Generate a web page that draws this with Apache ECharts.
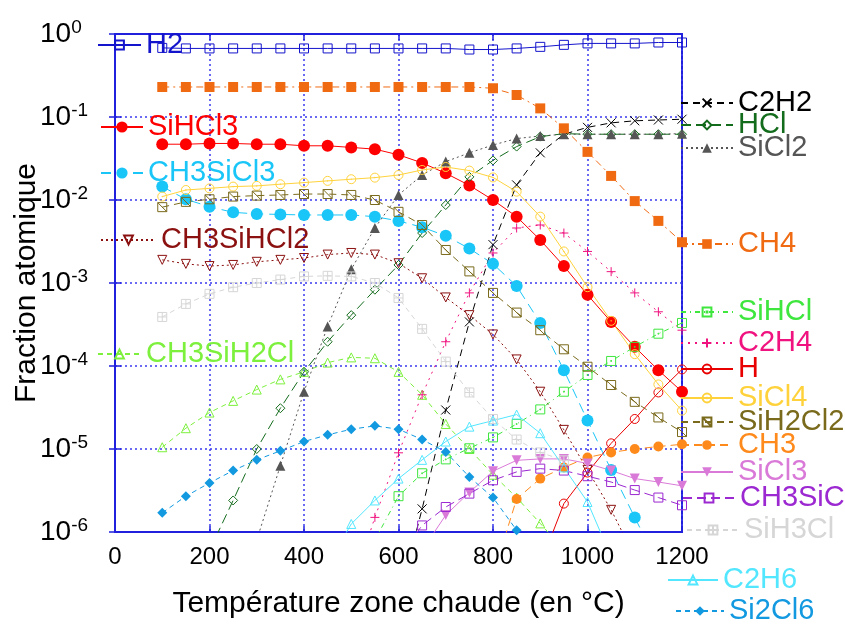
<!DOCTYPE html>
<html><head><meta charset="utf-8">
<script src="https://cdn.jsdelivr.net/npm/echarts@6/dist/echarts.min.js"></script>
<style>html,body{margin:0;padding:0;background:#fff}#c{width:845px;height:624px}</style>
</head><body><div id="c"></div>
<script>
// Temperatures (°C)
const temps = [100,150,200,250,300,350,400,450,500,550,600,650,700,750,800,850,900,950,1000,1050,1100,1150,1200];
const yTicks = [1e-6,1e-5,1e-4,1e-3,1e-2,1e-1,1];
// Atomic fractions per species (null = not plotted)
const H2 = [0.68,0.67,0.67,0.67,0.67,0.67,0.67,0.67,0.67,0.67,0.67,0.67,0.67,0.65,0.65,0.67,0.70,0.74,0.77,0.77,0.77,0.79,0.79];
const SiHCl3 = [0.047,0.047,0.048,0.048,0.047,0.047,0.045,0.045,0.043,0.041,0.035,0.028,0.021,0.015,0.010,0.0063,0.0033,0.0016,0.00072,0.00034,0.00017,8.9e-5,4.9e-5];
const CH3SiCl3 = [0.0145,0.0102,0.0083,0.0071,0.0068,0.0067,0.0066,0.0066,0.0066,0.0063,0.0056,0.0047,0.0037,0.0026,0.0017,0.00092,0.00033,8.9e-5,2.2e-5,5.6e-6,1.5e-6,4e-7,null];
const CH3SiHCl2 = [0.0019,0.0017,0.0016,0.00165,0.0018,0.0019,0.0020,0.0022,0.0023,0.0022,0.00173,0.00114,0.00067,0.00041,0.00024,0.00012,4.9e-5,1.7e-5,5.6e-6,1.85e-6,5e-7,null,null];
const CH3SiH2Cl = [1.05e-5,1.78e-5,2.75e-5,3.8e-5,5.2e-5,6.9e-5,8.5e-5,0.000110,0.000127,0.000124,8.5e-5,4.5e-5,2.0e-5,1.0e-5,4.9e-6,2.6e-6,1.27e-6,6e-7,null,null,null,null,null];
const C2H2 = [null,null,null,null,null,null,null,null,null,null,1.5e-7,1.9e-6,2.95e-5,0.00034,0.0029,0.0152,0.037,0.062,0.075,0.085,0.090,0.092,0.094];
const HCl = [null,null,6e-7,2.4e-6,1.0e-5,3.1e-5,8.5e-5,0.000196,0.00041,0.00083,0.00165,0.0040,0.0087,0.019,0.030,0.044,0.058,0.063,0.062,0.062,0.062,0.062,0.062];
const SiCl2 = [null,null,null,null,8e-7,6.3e-6,4.9e-5,0.0003,0.00146,0.0046,0.0115,0.020,0.029,0.037,0.046,0.055,0.059,0.062,0.062,0.062,0.062,0.062,0.063];
const CH4 = [0.23,0.23,0.23,0.23,0.23,0.23,0.23,0.23,0.23,0.23,0.23,0.23,0.23,0.23,0.222,0.184,0.127,0.073,0.038,0.0195,0.0097,0.0056,0.0031];
const SiHCl = [null,null,null,null,null,null,null,null,null,8e-7,2.7e-6,5.1e-6,7.5e-6,1.02e-5,1.38e-5,2.0e-5,3.0e-5,4.9e-5,7.8e-5,0.000115,0.00017,0.000245,0.00033];
const C2H4 = [null,null,null,null,null,null,null,null,2e-7,1.5e-6,9e-6,4.5e-5,0.000196,0.00076,0.0023,0.0046,0.005,0.004,0.0024,0.00137,0.00076,0.00045,0.00027];
const H = [null,null,null,null,null,null,null,null,null,null,null,null,null,null,null,null,4e-7,2.2e-6,5.2e-6,1.17e-5,2.3e-5,4.8e-5,9.1e-5];
const SiCl4 = [0.011,0.0132,0.0138,0.0145,0.0148,0.0155,0.0162,0.017,0.0178,0.0186,0.020,0.023,0.025,0.0226,0.0187,0.0126,0.0063,0.0024,0.00089,0.00035,0.000139,6.0e-5,2.9e-5];
const SiH2Cl2 = [0.0082,0.0095,0.0102,0.011,0.0113,0.0115,0.0118,0.0118,0.0115,0.010,0.0072,0.005,0.0025,0.00138,0.00076,0.00044,0.00027,0.000159,9.8e-5,5.9e-5,3.7e-5,2.4e-5,1.6e-5];
const CH3 = [null,null,null,null,null,null,null,null,null,null,null,null,null,null,3e-7,2.5e-6,4.4e-6,6e-6,7.9e-6,9.1e-6,1.0e-5,1.07e-5,1.14e-5];
const SiCl3 = [null,null,null,null,null,null,null,null,null,null,null,6e-7,1.6e-6,3.0e-6,5.4e-6,7.3e-6,7.6e-6,7.6e-6,6.7e-6,5.5e-6,4.4e-6,4.0e-6,3.6e-6];
const CH3SiC = [null,null,null,null,null,null,null,null,null,null,5e-7,1.2e-6,2.0e-6,2.9e-6,4.2e-6,5.3e-6,5.8e-6,5.5e-6,4.7e-6,4.0e-6,3.2e-6,2.6e-6,2.1e-6];
const SiH3Cl = [0.00039,0.00056,0.00074,0.00089,0.0010,0.0011,0.0012,0.00122,0.00120,0.00100,0.00066,0.00028,0.000113,4.8e-5,2.3e-5,1.3e-5,9.1e-6,7.3e-6,null,null,null,null,null];
const C2H6 = [null,null,null,null,null,null,null,4e-7,1.25e-6,2.4e-6,4.4e-6,7.4e-6,1.23e-5,1.86e-5,2.2e-5,2.6e-5,1.55e-5,6.0e-6,2.3e-6,5e-7,null,null,null];
const Si2Cl6 = [1.7e-6,2.7e-6,3.9e-6,5.5e-6,7.4e-6,9.5e-6,1.23e-5,1.48e-5,1.73e-5,1.9e-5,1.73e-5,1.3e-5,9.2e-6,4.6e-6,2.6e-6,1.05e-6,3e-7,null,null,null,null,null,null];

const FONT = 'Liberation Sans, Arial, sans-serif';
const SQ_DIAG = 'path://M0,0L10,0L10,10L0,10ZM0,0L10,10';
const SQ_PLUS = 'path://M0,0L10,0L10,10L0,10ZM5,0L5,10M0,5L10,5';
const SQ_DOT = 'path://M0,0L10,0L10,10L0,10ZM4.5,4.5L5.5,4.5L5.5,5.5L4.5,5.5Z';
const CIRC_DOT = 'path://M0,5A5,5 0 1 0 10,5A5,5 0 1 0 0,5ZM4.6,5A0.4,0.4 0 1 0 5.4,5A0.4,0.4 0 1 0 4.6,5Z';
const XMARK = 'path://M0,0L10,10M10,0L0,10';
const PLUS = 'path://M5,0L5,10M0,5L10,5';

// [name, values, color, symbol, filled, dash, size, rotate]
const specs = [
  ['H2', H2, '#1414cc', 'rect', false, 'solid', 9, 0],
  ['SiHCl3', SiHCl3, '#ff0000', 'circle', true, 'solid', 12, 0],
  ['CH3SiCl3', CH3SiCl3, '#19c6f7', 'circle', true, [10,6], 12, 0],
  ['CH3SiHCl2', CH3SiHCl2, '#8b1010', 'triangle', false, [2,3], 9, 180],
  ['CH3SiH2Cl', CH3SiH2Cl, '#7cf03c', 'triangle', false, [5,4], 9, 0],
  ['C2H2', C2H2, '#000000', XMARK, false, [7,5], 9, 0],
  ['HCl', HCl, '#136b1c', 'diamond', false, [10,5], 9, 0],
  ['SiCl2', SiCl2, '#555555', 'triangle', true, [2,3], 10, 0],
  ['CH4', CH4, '#f06a12', 'rect', true, [7,4,2,4], 10, 0],
  ['SiHCl', SiHCl, '#3ee63e', SQ_DOT, false, [5,4,1,4], 9, 0],
  ['C2H4', C2H4, '#f0137f', PLUS, false, [2,5], 9, 0],
  ['H', H, '#e80000', 'circle', false, 'solid', 9, 0],
  ['SiCl4', SiCl4, '#ffd23c', CIRC_DOT, false, 'solid', 9, 0],
  ['SiH2Cl2', SiH2Cl2, '#7a6a1c', SQ_DIAG, false, [7,5], 9, 0],
  ['CH3', CH3, '#ff8a1c', 'circle', true, [8,5], 10, 0],
  ['SiCl3', SiCl3, '#da7ad8', 'triangle', true, 'solid', 10, 180],
  ['CH3SiC', CH3SiC, '#9b28d0', 'rect', false, [9,5], 9, 0],
  ['SiH3Cl', SiH3Cl, '#d6d6d6', SQ_PLUS, false, [5,4], 9, 0],
  ['C2H6', C2H6, '#52e6ff', 'triangle', false, 'solid', 9, 0],
  ['Si2Cl6', Si2Cl6, '#1299e0', 'diamond', true, [5,4], 10, 0]
];

// legend placement: [name, left, centerY, itemWidth, itemHeight]
const legendPlaces = [
  ['H2', 97, 45, 43, 11],
  ['SiHCl3', 100, 127, 42, 14],
  ['CH3SiCl3', 100, 173, 42, 14],
  ['CH3SiHCl2', 100, 240, 55, 11],
  ['CH3SiH2Cl', 97, 354, 43, 11],
  ['C2H2', 680, 103, 52, 11],
  ['HCl', 680, 125, 52, 11],
  ['SiCl2', 680, 148, 52, 12],
  ['CH4', 680, 244, 52, 12],
  ['SiHCl', 680, 312, 52, 11],
  ['C2H4', 680, 343, 52, 11],
  ['H', 680, 369, 52, 11],
  ['SiCl4', 680, 398, 52, 11],
  ['SiH2Cl2', 680, 422, 52, 11],
  ['CH3', 680, 445, 52, 12],
  ['SiCl3', 680, 472, 52, 12],
  ['CH3SiC', 682, 498, 52, 11],
  ['SiH3Cl', 686, 530, 52, 11],
  ['C2H6', 667, 580, 50, 11],
  ['Si2Cl6', 675, 611, 48, 12]
];

const colorOf = {};
specs.forEach(s => colorOf[s[0]] = s[2]);

const series = specs.map(([name, vals, c, sym, filled, dash, size, rot]) => {
  const pts = [];
  temps.forEach((t, i) => { if (vals[i] != null) pts.push([t, vals[i]]); });
  return {
    name, type: 'line', data: pts, color: c,
    symbol: sym, symbolSize: size, symbolRotate: rot, showSymbol: true,
    lineStyle: {color: c, width: 1, type: dash},
    itemStyle: filled ? {color: c, borderWidth: 0} : {color: 'transparent', borderColor: c, borderWidth: 1},
    clip: true, z: 3
  };
});

const FS = 29;
const legends = legendPlaces.map(([name, left, cy, w, h]) => ({
  data: [name], left: left, top: cy - FS / 2, padding: 0,
  itemWidth: w, itemHeight: h, itemGap: 0, selectedMode: false,
  textStyle: {color: colorOf[name], fontSize: FS, lineHeight: FS, fontFamily: FONT},
  z: 6
}));

const blue = '#2020dd';
const gridBlue = '#3a3aee';
const option = {
  animation: false,
  textStyle: {fontFamily: FONT},
  grid: {left: 115, right: 163, top: 34, bottom: 92, show: true, borderColor: blue, borderWidth: 2,
         backgroundColor: 'transparent', containLabel: false, outerBoundsMode: 'none'},
  legend: legends,
  xAxis: [{
    type: 'value', min: 0, max: 1200, interval: 200,
    name: 'Température zone chaude (en °C)', nameLocation: 'middle', nameGap: 57, nameMoveOverlap: false,
    nameTextStyle: {fontSize: 30, color: '#000', fontFamily: FONT},
    axisLine: {show: true, lineStyle: {color: blue, width: 2}},
    axisTick: {show: true, inside: true, length: 6, lineStyle: {color: blue, width: 1.5}},
    axisLabel: {fontSize: 24, color: '#000', margin: 13, fontFamily: FONT, formatter: v => String(v)},
    splitLine: {show: true, lineStyle: {color: gridBlue, width: 1.5, type: [2,3]}}
  }, {
    type: 'value', min: 0, max: 1200, interval: 200, position: 'top',
    axisLine: {show: true, lineStyle: {color: blue, width: 2}},
    axisTick: {show: true, inside: true, length: 6, lineStyle: {color: blue, width: 1.5}},
    axisLabel: {show: false}, splitLine: {show: false}
  }],
  yAxis: [{
    type: 'log', logBase: 10, min: 1e-6, max: 1, splitNumber: 6,
    name: 'Fraction atomique', nameLocation: 'middle', nameRotate: 90, nameGap: 73, nameMoveOverlap: false,
    nameTextStyle: {fontSize: 30, color: '#000', fontFamily: FONT},
    axisLine: {show: true, lineStyle: {color: blue, width: 2}},
    axisTick: {show: true, inside: true, length: 6, lineStyle: {color: blue, width: 1.5}},
    minorTick: {show: false},
    axisLabel: {
      align: 'left', margin: 75, color: '#000',
      formatter: v => '{b|10}{s|' + Math.round(Math.log10(v)) + '}',
      rich: {
        b: {fontSize: 28, fontFamily: FONT, color: '#000', lineHeight: 32},
        s: {fontSize: 19, fontFamily: FONT, color: '#000', verticalAlign: 'top', lineHeight: 20}
      }
    },
    splitLine: {show: true, lineStyle: {color: gridBlue, width: 1.5, type: [2,3]}}
  }, {
    type: 'log', logBase: 10, min: 1e-6, max: 1, splitNumber: 6, position: 'right',
    axisLine: {show: true, lineStyle: {color: blue, width: 2}},
    axisTick: {show: true, inside: true, length: 6, lineStyle: {color: blue, width: 1.5}},
    axisLabel: {show: false}, splitLine: {show: false}
  }],
  series: series
};

const chart = echarts.init(document.getElementById('c'), null, {renderer: 'canvas'});
chart.setOption(option);
</script>
</body></html>
